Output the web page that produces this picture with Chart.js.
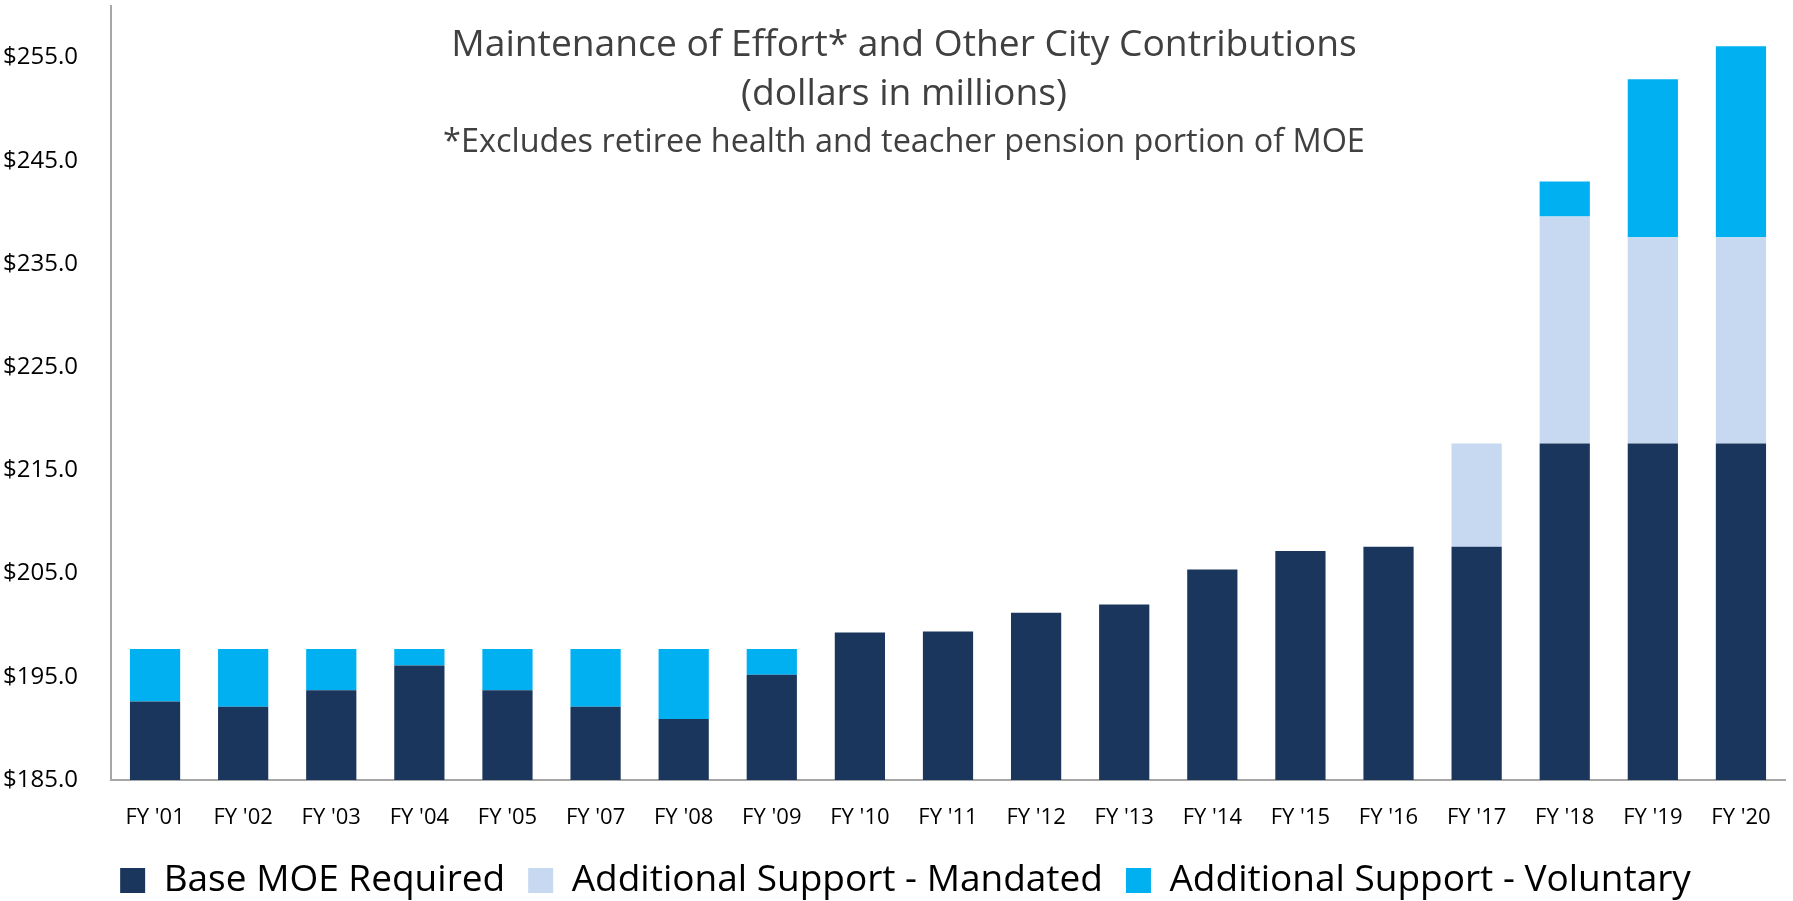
<!DOCTYPE html>
<html>
<head>
<meta charset="utf-8">
<script src="https://cdn.jsdelivr.net/npm/chart.js@4"></script>
<style>
  html, body { margin: 0; padding: 0; background: #fff; }
  #wrap { width: 1793px; height: 901px; }
</style>
</head>
<body>
<div id="wrap"><canvas id="moeChart"></canvas></div>
<script>
// Data (dollars in millions)
const years = ["FY '01", "FY '02", "FY '03", "FY '04", "FY '05", "FY '07", "FY '08", "FY '09", "FY '10",
    "FY '11", "FY '12", "FY '13", "FY '14", "FY '15", "FY '16", "FY '17", "FY '18", "FY '19", "FY '20"];
const baseMOE = [192.6, 192.1, 193.7, 196.1, 193.7, 192.1, 190.9, 195.2, 199.3,
    199.4, 201.2, 202.0, 205.4, 207.2, 207.6, 207.6, 217.6, 217.6, 217.6];
const mandated = [0, 0, 0, 0, 0, 0, 0, 0, 0,
    0, 0, 0, 0, 0, 0, 10.0, 22.0, 20.0, 20.0];
const voluntary = [5.1, 5.6, 4.0, 1.6, 4.0, 5.6, 6.8, 2.5, 0,
    0, 0, 0, 0, 0, 0, 0, 3.4, 15.3, 18.5];
const yTicks = [185, 195, 205, 215, 225, 235, 245, 255];

const FONT = "'Open Sans', sans-serif";

// pick a font size so the line gets the wanted width
function fitFont(c, text, width, guess) {
    c.font = guess + "px " + FONT;
    const size = guess * width / c.measureText(text).width;
    return size + "px " + FONT;
}

// Title drawn over the plot area, like the original
const titlePlugin = {
    id: "overlayTitle",
    afterLayout(chart) {
        chart.legend.left += 13;
        chart.legend.right += 13;
    },
    afterDraw(chart) {
        const c = chart.ctx;
        const line1 = "Maintenance of Effort* and Other City Contributions";
        const line3 = "*Excludes retiree health and teacher pension portion of MOE";
        c.save();
        c.fillStyle = "#404040";
        c.textAlign = "center";
        c.textBaseline = "alphabetic";
        c.font = fitFont(c, line1, 906, 36);
        c.fillText(line1, 904, 56);
        c.fillText("(dollars in millions)", 904, 105);
        c.font = fitFont(c, line3, 922, 30);
        c.fillText(line3, 904, 152);
        c.restore();
    }
};

const ctx = document.getElementById("moeChart").getContext("2d");
new Chart(ctx, {
    type: "bar",
    data: {
        labels: years,
        datasets: [
            { label: "Base MOE Required", data: baseMOE, backgroundColor: "#1B365D" },
            { label: "Additional Support - Mandated", data: mandated, backgroundColor: "#C6D9F0" },
            { label: "Additional Support - Voluntary", data: voluntary, backgroundColor: "#00B0F0" }
        ]
    },
    options: {
        responsive: true,
        maintainAspectRatio: false,
        animation: false,
        layout: { padding: { left: 0, right: 8, top: 6, bottom: -8 } },
        datasets: {
            bar: { categoryPercentage: 1.0, barPercentage: 0.57, borderWidth: 0 }
        },
        scales: {
            x: {
                stacked: true,
                grid: { display: false },
                border: { display: true, color: "#A6A6A6", width: 2 },
                ticks: { color: "#000", font: { family: FONT, size: 22 }, padding: 17, maxRotation: 0 },
                afterFit: axis => { axis.height = 59; }
            },
            y: {
                stacked: true,
                min: 185,
                max: 260,
                grid: { display: false },
                border: { display: true, color: "#A6A6A6", width: 2 },
                afterBuildTicks: axis => {
                    axis.ticks = yTicks.map(v => ({ value: v }));
                },
                afterFit: axis => {
                    axis.width = 111;
                    axis.paddingTop = 0;
                    axis.paddingBottom = 0;
                },
                ticks: {
                    color: "#000",
                    font: { family: FONT, size: 24 },
                    padding: 25,
                    callback: v => "$" + Number(v).toFixed(1)
                }
            }
        },
        plugins: {
            legend: {
                position: "bottom",
                labels: {
                    color: "#000",
                    font: { family: FONT, size: 37 },
                    boxWidth: 25,
                    boxHeight: 25,
                    padding: 23
                }
            },
            tooltip: { enabled: false }
        }
    },
    plugins: [titlePlugin]
});
</script>
</body>
</html>
